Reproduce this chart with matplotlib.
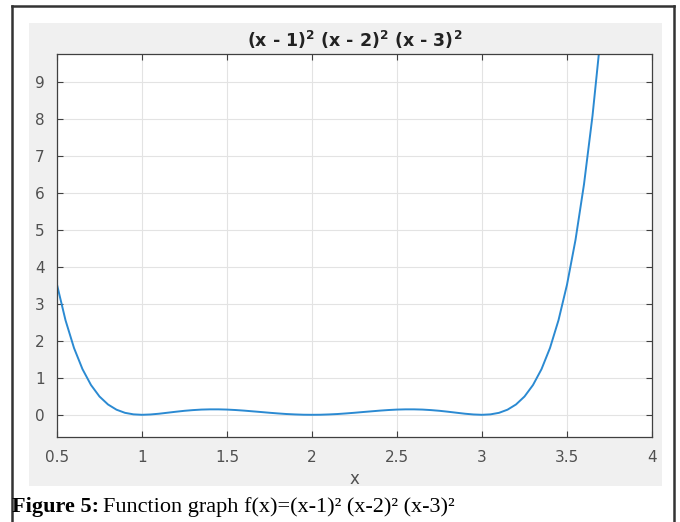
import numpy as np
import matplotlib
matplotlib.use('Agg')
import matplotlib.pyplot as plt
from matplotlib.patches import Rectangle
from matplotlib.lines import Line2D

plt.rcParams['font.family'] = ['DejaVu Sans']
plt.rcParams['mathtext.fontset'] = 'dejavusans'

# samples
x_vals = np.linspace(0.5, 3.7, 65)
y_vals = [3.516, 2.556, 1.806, 1.233, 0.805, 0.494, 0.279, 0.138, 0.053, 0.012,
          0.0, 0.009, 0.029, 0.056, 0.083, 0.108, 0.127, 0.141, 0.147, 0.147,
          0.141, 0.129, 0.113, 0.094, 0.075, 0.055, 0.037, 0.021, 0.010, 0.002,
          0.0, 0.002, 0.010, 0.021, 0.037, 0.055, 0.075, 0.094, 0.113, 0.129,
          0.141, 0.147, 0.147, 0.141, 0.127, 0.108, 0.083, 0.056, 0.029, 0.009,
          0.0, 0.012, 0.053, 0.138, 0.279, 0.494, 0.805, 1.233, 1.806, 2.556,
          3.516, 4.726, 6.230, 8.078, 10.323]

x_ticks = [0.5, 1, 1.5, 2, 2.5, 3, 3.5, 4]
x_ticklabels = ['0.5', '1', '1.5', '2', '2.5', '3', '3.5', '4']
y_ticks = [0, 1, 2, 3, 4, 5, 6, 7, 8, 9]

W, H = 680, 522
fig = plt.figure(figsize=(W / 100, H / 100), dpi=100)

# gray matlab figure panel
fig.patches.append(Rectangle((29 / W, 1 - 486 / H), 633 / W, 463 / H,
                             transform=fig.transFigure, facecolor='#f0f0f0',
                             edgecolor='none', zorder=-5))

# outer frame of the screenshot
for xs, ys in [([12 / W, 12 / W], [0, 1 - 6 / H]),
               ([12 / W, 674 / W], [1 - 6 / H, 1 - 6 / H]),
               ([674 / W, 674 / W], [0, 1 - 6 / H])]:
    fig.lines.append(Line2D(xs, ys, transform=fig.transFigure,
                            color='#333333', linewidth=1.8, zorder=-4))

ax = fig.add_axes([57 / W, 1 - 437 / H, 595 / W, 383 / H])
ax.set_zorder(2)
ax.set_facecolor('white')
ax.plot(x_vals, y_vals, color='#2b8ad2', linewidth=1.4, clip_on=True)

ax.set_xlim(0.5, 4)
ax.set_ylim(-0.6, 9.75)
ax.set_xticks(x_ticks)
ax.set_xticklabels(x_ticklabels)
ax.set_yticks(y_ticks)
ax.grid(True, color='#e3e3e3', linewidth=0.8)
ax.set_axisbelow(True)
ax.tick_params(direction='in', length=4, width=0.8, color='#404040',
               labelcolor='#505050', labelsize=11, top=True, right=True)
ax.tick_params(axis='x', pad=9)
ax.tick_params(axis='y', pad=9)
for s in ax.spines.values():
    s.set_color('#404040')
    s.set_linewidth(0.9)

ax.set_title(r'(x - 1)$^\mathbf{2}$ (x - 2)$^\mathbf{2}$ (x - 3)$^\mathbf{2}$',
             fontsize=12.5, fontweight='bold', color='#222222', pad=5)
ax.set_xlabel('x', fontsize=12, color='#505050', labelpad=4)

# caption below the panel
serif = ['Liberation Serif', 'DejaVu Serif']
t1 = fig.text(12 / W, 1 - 512 / H, 'Figure 5:', family=serif, fontweight='bold',
              fontsize=16, va='baseline', ha='left', color='black')
fig.canvas.draw()
bb = t1.get_window_extent(fig.canvas.get_renderer())
fig.text(bb.x1 / W + 4 / W, 1 - 512 / H,
         'Function graph f(x)=(x-1)\u00b2 (x-2)\u00b2 (x-3)\u00b2',
         family=serif, fontsize=16, va='baseline', ha='left', color='black')

fig.savefig('out.png', dpi=100)
